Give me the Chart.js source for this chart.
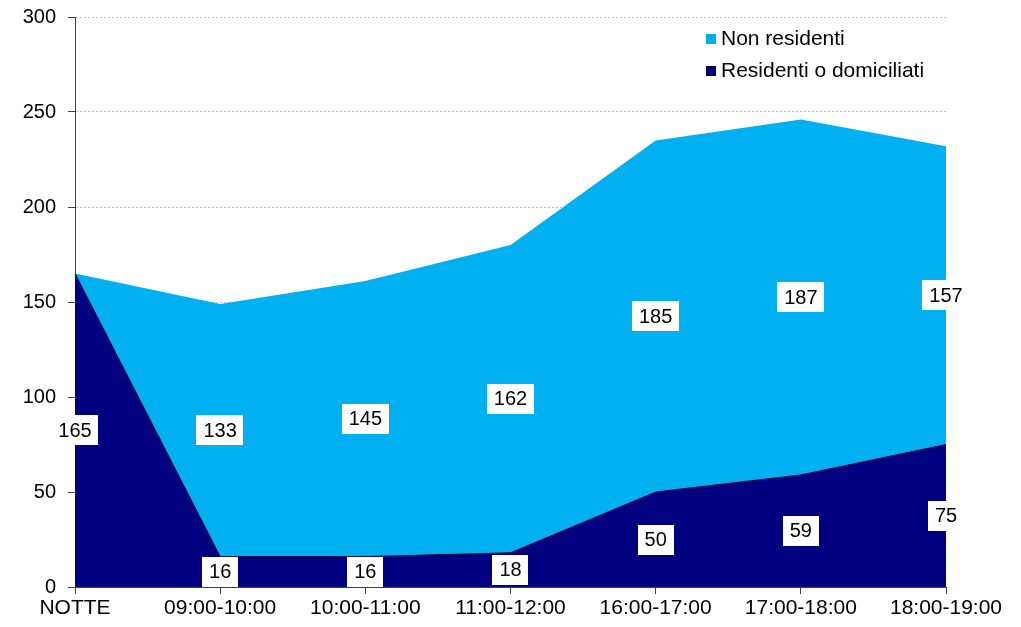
<!DOCTYPE html>
<html>
<head>
<meta charset="utf-8">
<script src="https://cdn.jsdelivr.net/npm/chart.js@4/dist/chart.umd.min.js"></script>
<style>
  html, body { margin: 0; padding: 0; background: #fff; }
  #wrap { width: 1021px; height: 627px; position: relative; }
</style>
</head>
<body>
<div id="wrap"><canvas id="chart"></canvas></div>
<script>
// Fasce orarie e presenze per tipologia

const fasce = ['NOTTE', '09:00-10:00', '10:00-11:00', '11:00-12:00', '16:00-17:00', '17:00-18:00', '18:00-19:00'];
const residenti = [165, 16, 16, 18, 50, 59, 75];
const nonResidenti = [0, 133, 145, 162, 185, 187, 157];
const yTicks = [0, 50, 100, 150, 200, 250, 300];

const FONT = '"Liberation Sans", Arial, sans-serif';

// ── Etichette valori (box bianco al centro di ogni fascia) ────────────────────

const bandLabels = {
  id: 'bandLabels',
  afterDatasetsDraw(chart) {
    const { ctx } = chart;
    const y = chart.scales.y;
    ctx.save();
    ctx.font = '20px ' + FONT;
    ctx.textAlign = 'center';
    ctx.textBaseline = 'middle';
    chart.data.datasets.forEach((ds, di) => {
      const meta = chart.getDatasetMeta(di);
      ds.data.forEach((v, i) => {
        if (!v) return;
        const base = di === 0 ? 0 : chart.data.datasets[0].data[i];
        const px = meta.data[i].x;
        const py = y.getPixelForValue(base + v / 2);
        const txt = String(v);
        const w = ctx.measureText(txt).width + 14;
        const h = 30;
        ctx.fillStyle = '#fff';
        ctx.fillRect(Math.round(px - w / 2), Math.round(py - h / 2), Math.round(w), h);
        ctx.fillStyle = '#000';
        ctx.fillText(txt, px, py + 1);
      });
    });
    ctx.restore();
  }
};

// ── Legenda in alto a destra ──────────────────────────────────────────────────

const cornerLegend = {
  id: 'cornerLegend',
  afterDraw(chart) {
    const { ctx } = chart;
    const items = chart.data.datasets.slice().reverse();
    ctx.save();
    ctx.font = '21px ' + FONT;
    ctx.textBaseline = 'middle';
    items.forEach((ds, i) => {
      const cy = 39 + i * 32;
      ctx.fillStyle = ds.backgroundColor;
      ctx.fillRect(706, cy - 5, 10, 10);
      ctx.strokeStyle = '#000';
      ctx.lineWidth = 0.5;
      if (i === 1) ctx.strokeRect(706.5, cy - 4.5, 9, 9);
      ctx.fillStyle = '#000';
      ctx.fillText(ds.label, 721, cy);
    });
    ctx.restore();
  }
};

new Chart(document.getElementById('chart'), {
  type: 'line',
  data: {
    labels: fasce,
    datasets: [
      {
        label: 'Residenti o domiciliati',
        data: residenti,
        backgroundColor: '#000080',
        borderColor: '#00003a',
        borderWidth: 1,
        fill: 'origin',
        pointRadius: 0,
        tension: 0,
      },
      {
        label: 'Non residenti',
        data: nonResidenti,
        backgroundColor: '#00B0F0',
        borderColor: '#00B0F0',
        borderWidth: 0,
        fill: '-1',
        pointRadius: 0,
        tension: 0,
      },
    ],
  },
  options: {
    responsive: true,
    maintainAspectRatio: false,
    animation: false,
    layout: { padding: { top: 17, right: 75, left: 0, bottom: 0 } },
    plugins: {
      legend: { display: false },
      tooltip: { enabled: false },
    },
    scales: {
      x: {
        offset: false,
        afterFit: (s) => { s.height = 40; },
        grid: { drawOnChartArea: false, drawTicks: true, tickLength: 7, tickColor: '#404040' },
        border: { color: '#404040', width: 1 },
        ticks: { color: '#000', font: { family: FONT, size: 21 }, padding: 2, maxRotation: 0, autoSkip: false },
      },
      y: {
        stacked: true,
        min: 0,
        max: 300,
        afterFit: (s) => { s.width = 75; s.paddingTop = 0; s.paddingBottom = 0; },
        afterBuildTicks: (s) => { s.ticks = yTicks.map((v) => ({ value: v })); },
        grid: { color: '#bdbdbd', tickColor: '#404040', tickLength: 7, tickBorderDash: [] },
        border: { color: '#404040', width: 1, dash: [2, 2] },
        ticks: { color: '#000', font: { family: FONT, size: 20 }, padding: 12 },
      },
    },
  },
  plugins: [bandLabels, cornerLegend],
});
</script>
</body>
</html>
